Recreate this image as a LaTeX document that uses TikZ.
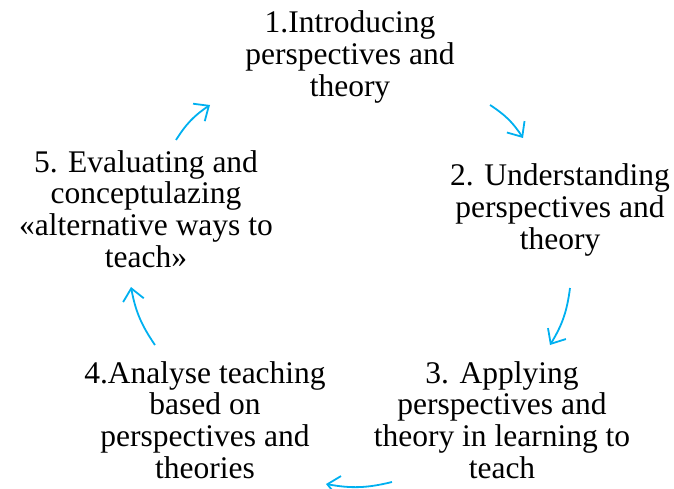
\documentclass[tikz,border=0pt]{standalone}
\usepackage{fontspec}
\setmainfont{Liberation Serif}
\usepackage{tikz}
\usetikzlibrary{arrows.meta}
\definecolor{cycleblue}{RGB}{0,176,240}

\begin{document}
\begin{tikzpicture}[x = 1pt, y = -1pt, line width = 1.8pt,
    stage/.style = {align = center, inner sep = 0pt, font = \fontsize{31.5}{31.8}\selectfont},
    flow/.style = {cycleblue, -{Straight Barb[length = 12pt, width = 21pt]}, bend left = 12}]
\useasboundingbox (0,0) rectangle (674,489);
\draw (350,57) node[stage](s1){1.Introducing\\perspectives and\\theory}
    (560,210) node[stage](s2){2. Understanding\\perspectives and\\theory}
    (502,420) node[stage](s3){3. Applying\\perspectives and\\theory in learning to\\teach}
    (205,420) node[stage](s4){4.Analyse teaching\\based on\\perspectives and\\theories}
    (146,209) node[stage](s5){5. Evaluating and\\conceptulazing\\«alternative ways to\\teach»};
% arrow ends
\coordinate (a1) at (490,105); \coordinate (b1) at (523,138);
\coordinate (a2) at (570,288); \coordinate (b2) at (550,345);
\coordinate (a3) at (392,482); \coordinate (b3) at (326,484);
\coordinate (a4) at (155,345); \coordinate (b4) at (131,287);
\coordinate (a5) at (176,140); \coordinate (b5) at (210,105);
    \draw [flow] (a1) to (b1);
    \draw [flow] (a2) to (b2);
    \draw [flow] (a3) to (b3);
    \draw [flow] (a4) to (b4);
    \draw [flow] (a5) to (b5);
\end{tikzpicture}
\end{document}
